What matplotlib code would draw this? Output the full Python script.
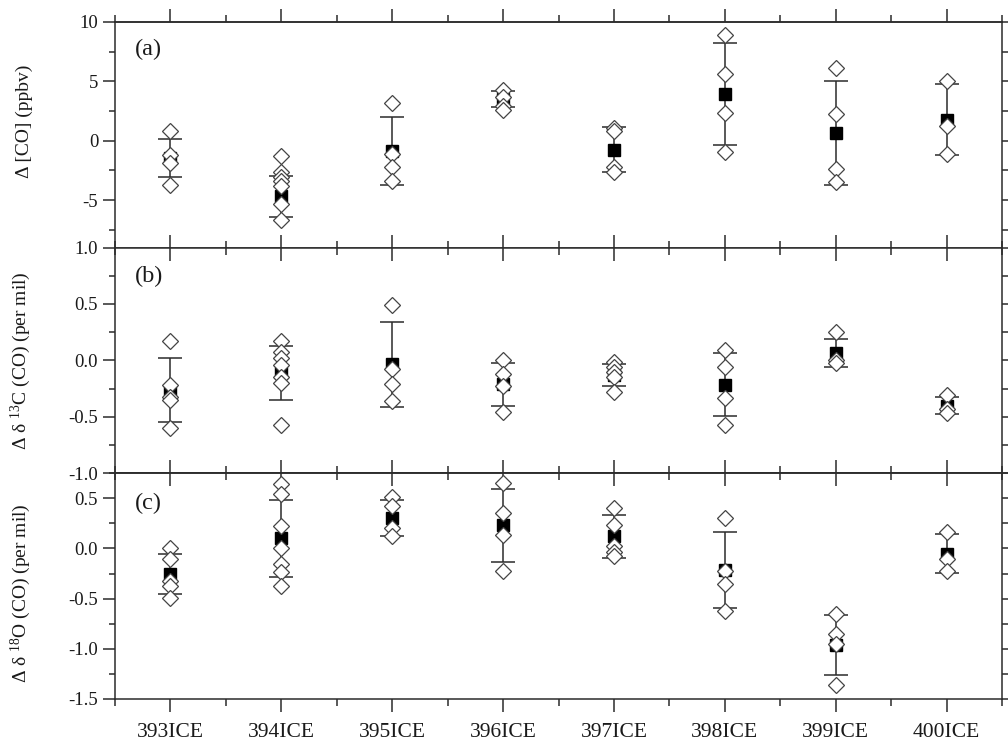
import numpy as np
import matplotlib.pyplot as plt
from matplotlib.ticker import MultipleLocator, FormatStrFormatter, NullFormatter

plt.rcParams['font.family'] = 'Liberation Serif'
plt.rcParams['mathtext.fontset'] = 'custom'
plt.rcParams['mathtext.rm'] = 'Liberation Serif'
plt.rcParams['mathtext.it'] = 'Liberation Serif:italic'
plt.rcParams['axes.unicode_minus'] = False

samples = ['393ICE', '394ICE', '395ICE', '396ICE', '397ICE', '398ICE', '399ICE', '400ICE']

# (a) delta [CO], ppbv
co_pts = [[0.8, -1.2, -1.9, -3.7],
          [-1.3, -2.6, -3.1, -3.4, -3.8, -5.3, -6.7],
          [3.2, -1.1, -2.2, -3.4],
          [4.3, 3.7, 2.9, 2.6],
          [1.1, 0.8, -2.2, -2.6],
          [8.9, 5.6, 2.3, -1.0],
          [6.1, 2.2, -2.4, -3.5],
          [5.0, 1.2, -1.1]]
co_mean = [-1.45, -4.7, -0.85, 3.5, -0.75, 3.95, 0.65, 1.75]
co_err = [1.6, 1.7, 2.85, 0.7, 1.9, 4.28, 4.38, 3.0]

# (b) delta d13C(CO), per mil
c13_pts = [[0.17, -0.22, -0.32, -0.35, -0.6],
           [0.17, 0.07, 0.02, -0.04, -0.15, -0.2, -0.57],
           [0.49, -0.08, -0.21, -0.36],
           [0.0, -0.12, -0.23, -0.46],
           [-0.01, -0.06, -0.1, -0.15, -0.28],
           [0.09, -0.06, -0.33, -0.57],
           [0.25, 0.0, -0.02],
           [-0.31, -0.43, -0.47]]
c13_mean = [-0.26, -0.115, -0.035, -0.21, -0.13, -0.215, 0.065, -0.4]
c13_err = [0.285, 0.24, 0.375, 0.19, 0.1, 0.28, 0.125, 0.078]

# (c) delta d18O(CO), per mil
o18_pts = [[0.0, -0.1, -0.32, -0.37, -0.49],
           [0.64, 0.54, 0.22, 0.0, -0.15, -0.23, -0.37],
           [0.51, 0.42, 0.2, 0.12],
           [0.65, 0.35, 0.13, -0.22],
           [0.4, 0.23, 0.02, -0.04, -0.07],
           [0.3, -0.22, -0.35, -0.62],
           [-0.65, -0.85, -0.95, -1.36],
           [0.16, -0.1, -0.22]]
o18_mean = [-0.255, 0.1, 0.305, 0.23, 0.12, -0.213, -0.96, -0.05]
o18_err = [0.2, 0.38, 0.18, 0.36, 0.21, 0.38, 0.3, 0.19]

ink = '#2b2b2b'
fig = plt.figure(figsize=(10.08, 7.42), dpi=100)

left, width, h = 0.1141, 0.8800, 0.3042
ax_a = fig.add_axes([left, 0.058 + 2 * h, width, h])
ax_b = fig.add_axes([left, 0.058 + h, width, h])
ax_c = fig.add_axes([left, 0.058, width, h])


def draw_panel(ax, pts, mean, err):
    x = np.arange(len(samples))
    ax.errorbar(x, mean, yerr=err, fmt='none', ecolor=ink, elinewidth=1.1,
                capsize=8.5, capthick=1.1, zorder=2)
    ax.plot(x, mean, 's', color='k', ms=8, zorder=3)
    for i, vals in enumerate(pts):
        ax.plot(np.full(len(vals), i), vals, 'D', mfc='white', mec='#444444',
                mew=0.9, ms=8.6, linestyle='None', zorder=4)
    ax.set_xlim(-0.5, len(samples) - 0.5)
    ax.xaxis.set_major_locator(MultipleLocator(1))
    ax.xaxis.set_minor_locator(MultipleLocator(0.5))
    for sp in ax.spines.values():
        sp.set_color(ink)
        sp.set_linewidth(1.1)
    ax.tick_params(axis='y', which='both', direction='out', left=True, right=True,
                   color=ink, width=1.1, labelsize=13.5, labelcolor='#1a1a1a')
    ax.tick_params(axis='y', which='major', length=8.6)
    ax.tick_params(axis='y', which='minor', length=4.3)
    ax.tick_params(axis='x', which='both', color=ink, width=1.1,
                   labelsize=15.5, labelcolor='#1a1a1a')
    ax.tick_params(axis='x', which='major', length=9.4)
    ax.tick_params(axis='x', which='minor', length=5)


def extra_top(ax, direction):
    sec = ax.secondary_xaxis('top')
    sec.xaxis.set_major_locator(MultipleLocator(1))
    sec.xaxis.set_minor_locator(MultipleLocator(0.5))
    sec.xaxis.set_major_formatter(NullFormatter())
    sec.spines['top'].set_color(ink)
    sec.spines['top'].set_linewidth(1.1)
    sec.tick_params(which='both', direction=direction, color=ink, width=1.1)
    sec.tick_params(which='major', length=9.4)
    sec.tick_params(which='minor', length=5)


draw_panel(ax_a, co_pts, co_mean, co_err)
draw_panel(ax_b, c13_pts, c13_mean, c13_err)
draw_panel(ax_c, o18_pts, o18_mean, o18_err)

# panel (a)
ax_a.set_ylim(-9, 10)
ax_a.yaxis.set_major_locator(MultipleLocator(5))
ax_a.yaxis.set_minor_locator(MultipleLocator(2.5))
ax_a.tick_params(axis='x', which='both', direction='in', labelbottom=False)
extra_top(ax_a, 'out')

# panel (b)
ax_b.set_ylim(-1, 1)
ax_b.yaxis.set_major_locator(MultipleLocator(0.5))
ax_b.yaxis.set_minor_locator(MultipleLocator(0.25))
ax_b.yaxis.set_major_formatter(FormatStrFormatter('%.1f'))
ax_b.tick_params(axis='x', which='both', direction='in', top=True, labelbottom=False)

# panel (c)
ax_c.set_ylim(-1.5, 0.75)
ax_c.yaxis.set_major_locator(MultipleLocator(0.5))
ax_c.yaxis.set_minor_locator(MultipleLocator(0.25))
ax_c.yaxis.set_major_formatter(FormatStrFormatter('%.1f'))
ax_c.tick_params(axis='x', which='both', direction='out', pad=8)
ax_c.set_xticks(np.arange(len(samples)))
ax_c.set_xticklabels(samples)
extra_top(ax_c, 'in')

ylabels = [(ax_a, 'Δ [CO] (ppbv)', 0.561),
           (ax_b, 'Δ δ $^{13}$C (CO) (per mil)', 0.5),
           (ax_c, 'Δ δ $^{18}$O (CO) (per mil)', 0.469)]
for ax, txt, yy in ylabels:
    ax.set_ylabel(txt, fontsize=14, color='#1a1a1a')
    ax.yaxis.set_label_coords(-0.0925, yy)

for ax, tag, yy in [(ax_a, '(a)', 0.876), (ax_b, '(b)', 0.87), (ax_c, '(c)', 0.866)]:
    ax.text(0.0225, yy, tag, transform=ax.transAxes, fontsize=17.5,
            ha='left', va='center', color='#1a1a1a')

fig.savefig('out.png', dpi=100)
